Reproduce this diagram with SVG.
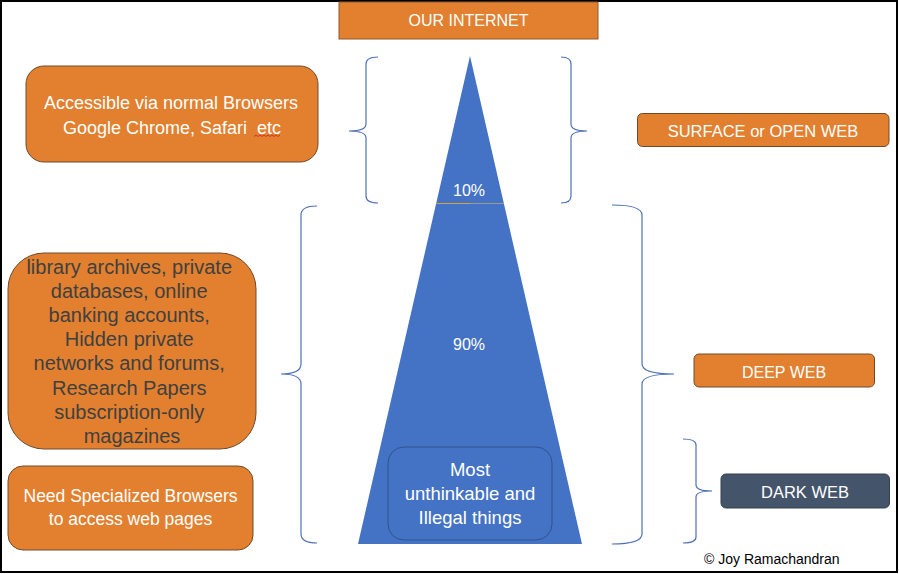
<svg xmlns="http://www.w3.org/2000/svg" width="899" height="574" viewBox="0 0 899 574">
<style>
.ob{fill:#e2802f;stroke:#6e4a2c;stroke-width:1}
.wt{fill:#ffffff;font-family:"Liberation Sans",Arial,sans-serif;text-anchor:middle}
.br{fill:none;stroke:#4f72b5;stroke-width:1.2}
</style>
<rect x="0" y="0" width="899" height="574" fill="#ffffff"/>
<rect x="1" y="1" width="896" height="571" fill="none" stroke="#000000" stroke-width="2"/>

<g id="pyramid">
  <polygon points="470,56 582,544 358,544" fill="#4472c4"/>
  <line x1="436" y1="203.5" x2="470" y2="203.5" stroke="#d6a23c" stroke-width="1.2"/>
  <line x1="470" y1="203.5" x2="504" y2="203.5" stroke="#9a9a8a" stroke-width="1.2"/>
  <text class="wt" x="469" y="196" font-size="16">10%</text>
  <text class="wt" x="469" y="350" font-size="16">90%</text>
</g>

<g id="dark-content">
  <rect x="388" y="447" width="164" height="93" rx="16" fill="#4472c4" stroke="#2f528f" stroke-width="1"/>
  <text class="wt" font-size="18.5"><tspan x="470" y="476">Most</tspan><tspan x="470" y="500">unthinkable and</tspan><tspan x="470" y="524">Illegal things</tspan></text>
</g>

<g id="our-internet">
  <rect x="339" y="2" width="259" height="37" fill="#e2802f" stroke="#8a5a30" stroke-width="1"/>
  <text class="wt" x="468.5" y="26" font-size="16">OUR INTERNET</text>
</g>

<g id="accessible">
  <rect class="ob" x="26" y="66" width="292" height="96" rx="18"/>
  <text class="wt" font-size="18"><tspan x="171" y="109">Accessible via normal Browsers</tspan><tspan x="172" y="134">Google Chrome, Safari&#160; etc</tspan></text>
  <path d="M254 136.5 l2 -1.5 l2 1.5 l2 -1.5 l2 1.5 l2 -1.5 l2 1.5 l2 -1.5 l2 1.5 l2 -1.5 l2 1.5 l2 -1.5 l2 1.5 l2 -1.5" fill="none" stroke="#d02020" stroke-width="0.8"/>
</g>

<g id="surface-web">
  <rect class="ob" x="637.5" y="113.5" width="251.5" height="33" rx="5"/>
  <text class="wt" x="763" y="137" font-size="16.5">SURFACE or OPEN WEB</text>
</g>

<g id="deep-content">
  <rect class="ob" x="8" y="253" width="248" height="196" rx="36"/>
  <text font-family="Liberation Sans,Arial,sans-serif" font-size="20" fill="#404040" text-anchor="middle">
    <tspan x="132" y="274">library archives, private</tspan>
    <tspan x="132" y="298.1">databases, online</tspan>
    <tspan x="132" y="322.2">banking accounts,</tspan>
    <tspan x="132" y="346.3">Hidden private</tspan>
    <tspan x="132" y="370.4">networks and forums,</tspan>
    <tspan x="132" y="394.5">Research Papers</tspan>
    <tspan x="132" y="418.6">subscription-only</tspan>
    <tspan x="132" y="442.7">magazines</tspan>
  </text>
</g>

<g id="specialized">
  <rect class="ob" x="8" y="466" width="245" height="84" rx="15"/>
  <text class="wt" font-size="17.5"><tspan x="130.5" y="501.5">Need Specialized Browsers</tspan><tspan x="130.5" y="525">to access web pages</tspan></text>
</g>

<g id="deep-web">
  <rect class="ob" x="694" y="354" width="180.5" height="33" rx="5"/>
  <text class="wt" x="784" y="377.5" font-size="16">DEEP WEB</text>
</g>

<g id="dark-web">
  <rect x="721" y="474" width="168.5" height="34" rx="5" fill="#44546a" stroke="#34404f" stroke-width="1"/>
  <text class="wt" x="805" y="498" font-size="16.5">DARK WEB</text>
</g>

<g id="connectors">
  <path class="br" d="M378 57 Q366 57 366 64 L366 124 Q366 131 349 131 Q366 131 366 138 L366 196 Q366 203 378 203"/>
  <path class="br" d="M561 57 Q571 57 571 64 L571 124 Q571 131 587 131 Q571 131 571 138 L571 196 Q571 203 561 203"/>
  <path class="br" d="M317 206 Q301 206 301 215 L301 364 Q301 374 281 374 Q301 374 301 384 L301 534 Q301 543 317 543"/>
  <path class="br" d="M612 205 Q642 205 642 215 L642 364 Q642 374 674 374 Q642 374 642 384 L642 534 Q642 544 612 544"/>
  <path class="br" d="M683 439 Q696 439 696 445 L696 485 Q696 491 712 491 Q696 491 696 497 L696 537 Q696 543 683 543"/>
</g>

<text x="704" y="564" font-family="Liberation Sans,Arial,sans-serif" font-size="14" fill="#000000">© Joy Ramachandran</text>
</svg>
